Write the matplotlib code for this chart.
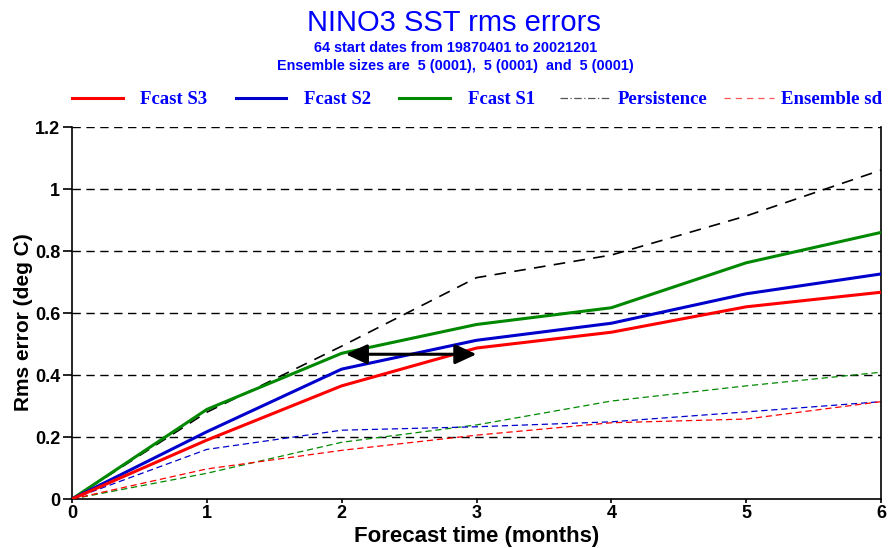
import matplotlib
matplotlib.use("Agg")
import matplotlib.pyplot as plt
from matplotlib.lines import Line2D

months = [0, 1, 2, 3, 4, 5, 6]
fcast_s3 = [0, 0.19, 0.365, 0.487, 0.538, 0.620, 0.667]
fcast_s2 = [0, 0.217, 0.419, 0.512, 0.567, 0.662, 0.726]
fcast_s1 = [0, 0.289, 0.470, 0.563, 0.617, 0.762, 0.860]
persistence = [0, 0.280, 0.493, 0.714, 0.787, 0.913, 1.061]
sd_s3 = [0, 0.097, 0.157, 0.206, 0.246, 0.258, 0.314]
sd_s2 = [0, 0.160, 0.222, 0.233, 0.249, 0.281, 0.314]
sd_s1 = [0, 0.083, 0.183, 0.239, 0.316, 0.365, 0.409]
arrow_x = [2.03, 3.0]
arrow_y = 0.467
yticks = [0, 0.2, 0.4, 0.6, 0.8, 1.0, 1.2]
ytick_labels = ["0", "0.2", "0.4", "0.6", "0.8", "1", "1.2"]
legend_labels = ["Fcast S3", "Fcast S2", "Fcast S1", "Persistence", "Ensemble sd"]

sans = ["Liberation Sans", "DejaVu Sans"]
serif = ["Liberation Serif", "DejaVu Serif"]
RED, BLUE, GREEN = "#ff0000", "#0000cc", "#008800"

fig = plt.figure(figsize=(8.89, 5.48), dpi=100)
ax = fig.add_axes([0.081, 0.0894, 0.910, 0.6788])

for y in yticks[1:]:
    ax.axhline(y, color="black", lw=1.0, ls=(0, (6, 4)), zorder=1)

ax.plot(months, persistence, color="black", lw=1.2, ls=(0, (7, 5)), zorder=2)
ax.plot(months, sd_s1, color=GREEN, lw=0.9, ls=(0, (5, 3)), zorder=2)
ax.plot(months, sd_s2, color=BLUE, lw=0.9, ls=(0, (5, 3)), zorder=2)
ax.plot(months, sd_s3, color=RED, lw=0.9, ls=(0, (5, 3)), zorder=2)
ax.plot(months, fcast_s1, color=GREEN, lw=2.2, zorder=3)
ax.plot(months, fcast_s2, color=BLUE, lw=2.2, zorder=3)
ax.plot(months, fcast_s3, color=RED, lw=2.2, zorder=3)

ax.annotate("", xy=(arrow_x[0], arrow_y), xytext=(arrow_x[1], arrow_y),
            arrowprops=dict(arrowstyle="<|-|>,head_length=1.3,head_width=0.6",
                            color="black", lw=2.2, shrinkA=0, shrinkB=0),
            zorder=4)

ax.set_xlim(0, 6)
ax.set_ylim(0, 1.2)
ax.set_xticks(months)
ax.set_yticks(yticks)
ax.set_yticklabels(ytick_labels)
ax.spines["top"].set_visible(False)
for s in ["left", "bottom", "right"]:
    ax.spines[s].set_linewidth(1.2)
ax.tick_params(axis="y", direction="out", length=6.5, width=1.2, pad=2)
ax.tick_params(axis="x", direction="out", length=3, width=1.2, pad=1)
for lab in ax.get_xticklabels() + ax.get_yticklabels():
    lab.set_fontfamily(sans)
    lab.set_fontweight("bold")
    lab.set_fontsize(13)

ax.set_xlabel("Forecast time (months)", fontsize=16, fontweight="bold",
              family=sans, labelpad=3)
ax.set_ylabel("Rms error (deg C)", fontsize=15, fontweight="bold",
              family=sans)
ax.yaxis.set_label_coords(-0.048, 0.475)

fig.text(0.511, 0.958, "NINO3 SST rms errors", color="blue", fontsize=21,
         family=sans, ha="center", va="center")
fig.text(0.512, 0.913, "64 start dates from 19870401 to 20021201", color="blue",
         fontsize=10.4, fontweight="bold", family=sans, ha="center", va="center")
fig.text(0.512, 0.879, "Ensemble sizes are  5 (0001),  5 (0001)  and  5 (0001)",
         color="blue", fontsize=10.4, fontweight="bold", family=sans,
         ha="center", va="center")

handles = [
    Line2D([], [], color=RED, lw=2.2),
    Line2D([], [], color=BLUE, lw=2.2),
    Line2D([], [], color=GREEN, lw=2.2),
    Line2D([], [], color="#555555", lw=0.9, ls=(0, (6, 2, 1, 2))),
    Line2D([], [], color="#ff5555", lw=0.9, ls=(0, (5, 4))),
]
legprop = dict(family=serif, weight="bold", size=13.5)
leg1 = fig.legend(handles[:3], legend_labels[:3], ncol=3, loc="center left",
                  bbox_to_anchor=(0.081, 0.818), frameon=False,
                  handlelength=2.7, handletextpad=0.95, columnspacing=1.5,
                  borderpad=0, borderaxespad=0, prop=legprop)
leg2 = fig.legend(handles[3:], legend_labels[3:], ncol=2, loc="center left",
                  bbox_to_anchor=(0.630, 0.818), frameon=False,
                  handlelength=2.7, handletextpad=0.38, columnspacing=0.85,
                  borderpad=0, borderaxespad=0, prop=legprop)
for leg in (leg1, leg2):
    for t in leg.get_texts():
        t.set_color("blue")

fig.savefig("out.png", dpi=100)
